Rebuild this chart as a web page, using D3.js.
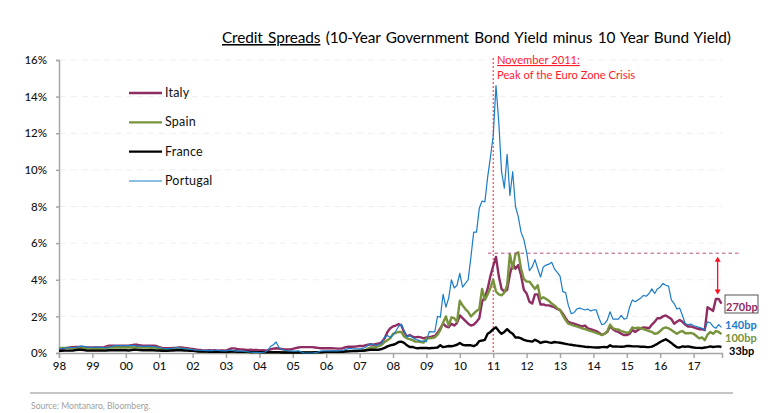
<!DOCTYPE html>
<html><head><meta charset="utf-8">
<script src="https://cdnjs.cloudflare.com/ajax/libs/d3/7.8.5/d3.min.js"></script>
<style>
html,body{margin:0;padding:0;background:#fff;overflow:hidden}
text{font-family:Lato,"Open Sans",sans-serif}
</style></head><body><svg id="c" width="778" height="413"></svg>
<script>
const startYear = 1998;
const yearTicks = d3.range(1998, 2018);
const pctTicks = [0, 2, 4, 6, 8, 10, 12, 14, 16];
const title = "Credit Spreads";
const titleRest = " (10-Year Government Bond Yield minus 10 Year Bund Yield)";
const source = "Source: Montanaro, Bloomberg.";
const peakYear = 2011;
const peakLevel = 5.45;
const gapTop = 5.2, gapBottom = 3.25;

// monthly values, % (Jan 1998 - Nov 2017)
const italy = [
.2,.22,.25,.28,.3,.32,.33,.33,.33,.32,.3,.3,
.3,.3,.3,.3,.3,.36,.4,.4,.4,.4,.4,.4,
.4,.4,.42,.45,.45,.42,.4,.4,.4,.4,.4,.38,
.32,.28,.26,.26,.26,.27,.28,.3,.3,.28,.26,.24,
.22,.2,.17,.16,.14,.14,.16,.14,.15,.13,.14,.14,
.13,.2,.25,.25,.22,.2,.2,.18,.17,.18,.16,.17,
.14,.15,.14,.15,.2,.24,.26,.24,.22,.2,.2,.2,
.22,.27,.3,.32,.32,.32,.32,.32,.3,.28,.26,.26,
.26,.26,.26,.25,.24,.24,.26,.32,.34,.34,.34,.36,
.38,.38,.42,.45,.48,.45,.5,.52,.6,.8,1.15,1.35,
1.45,1.5,1.58,1.5,1.15,.9,.98,.9,.85,.88,.85,.8,
.85,.85,.9,.93,1.1,1.35,1.6,1.45,1.4,1.6,1.5,1.65,
2.05,1.9,1.75,1.6,1.5,1.55,1.7,1.9,2.8,3.05,3.5,4.2,
4.75,5.25,4.2,3.5,3.35,3.45,4.3,4.9,4.6,4.8,4.25,3.45,
3.25,2.8,2.7,3.2,3.2,2.65,2.65,2.6,2.6,2.55,2.5,2.4,
2.35,2.15,1.9,1.7,1.65,1.6,1.55,1.5,1.45,1.5,1.35,1.3,
1.25,1.2,1.1,1,1.05,1.15,1.45,1.3,1.2,1.15,1.05,.98,
.98,1.05,1.25,1.15,1.25,1.35,1.4,1.38,1.35,1.55,1.7,1.9,
1.9,2,2.05,1.95,1.85,1.6,1.7,1.8,1.7,1.55,1.45,1.45,
1.4,1.35,1.3,1.3,1.25,2.5,2.4,2.3,2.95,2.95,2.7];
const spain = [
.25,.28,.28,.28,.26,.26,.25,.25,.25,.25,.24,.24,
.22,.22,.22,.22,.24,.28,.3,.3,.3,.3,.3,.3,
.3,.3,.3,.3,.32,.3,.3,.3,.3,.3,.3,.28,
.26,.22,.2,.2,.2,.22,.24,.25,.24,.22,.2,.18,
.14,.12,.1,.08,.06,.08,.08,.07,.07,.07,.06,.05,
.05,.06,.08,.06,.05,.05,.05,.05,.04,.03,.04,.06,
.04,.04,.03,.04,.05,.05,.05,.05,.04,.03,.03,.03,
.03,.03,.04,.04,.03,.03,.03,.03,.04,.04,.04,.05,
.05,.05,.05,.05,.05,.05,.08,.1,.1,.1,.12,.12,
.12,.13,.15,.25,.3,.3,.33,.38,.45,.6,.7,.8,
1.05,1.1,1.15,1.15,.9,.8,.76,.7,.62,.62,.6,.57,
.8,.8,.82,.85,1,1.25,1.65,2,1.5,1.95,1.9,1.7,
2.85,2.6,2.4,2.25,2,2.15,2.3,2.4,3.5,2.9,3.2,3.55,
4,3.35,3.2,3.15,3.3,3.7,5.4,4.6,5.4,5.5,4.6,4.05,
3.9,3.9,3.7,3.5,3.7,2.95,3.05,2.95,2.85,2.7,2.6,2.45,
2.35,2.05,1.8,1.6,1.55,1.5,1.45,1.4,1.35,1.3,1.25,1.2,
1.15,1.1,1.05,.98,1.05,1.2,1.55,1.35,1.3,1.28,1.2,1.15,
1.1,1.15,1.4,1.35,1.38,1.35,1.3,1.25,1.2,1.15,1.05,1.08,
1.2,1.35,1.4,1.35,1.25,1.15,1.05,1.15,1.2,1.08,1.08,1.1,
1.05,.93,.8,.85,.7,1,1.15,1.05,1.2,1.15,1.03];
const france = [
.12,.12,.13,.13,.13,.14,.16,.18,.18,.16,.14,.13,
.13,.13,.13,.13,.13,.14,.15,.15,.15,.15,.15,.15,
.15,.14,.16,.18,.18,.16,.15,.15,.15,.16,.15,.14,
.14,.12,.12,.12,.14,.14,.15,.15,.15,.14,.13,.12,
.12,.1,.08,.08,.08,.08,.07,.07,.07,.07,.07,.07,
.07,.07,.08,.08,.07,.06,.06,.06,.06,.05,.05,.05,
.05,.04,.04,.04,.04,.04,.04,.04,.03,.03,.03,.03,
.03,.03,.03,.03,.03,.03,.03,.03,.04,.04,.04,.05,
.06,.06,.07,.07,.07,.07,.07,.08,.09,.1,.1,.1,
.12,.12,.14,.16,.18,.18,.18,.18,.22,.28,.36,.42,
.45,.5,.6,.62,.55,.42,.33,.33,.28,.26,.28,.27,
.27,.26,.27,.28,.3,.42,.32,.35,.38,.37,.4,.45,
.55,.45,.42,.42,.42,.38,.45,.65,.68,.72,1.05,1.15,
1.3,1.4,1.2,1.05,1.15,1.3,1.15,1.05,.85,.85,.8,.72,
.67,.65,.62,.72,.65,.55,.6,.62,.58,.55,.6,.58,
.56,.53,.5,.47,.45,.42,.4,.38,.36,.34,.33,.32,
.31,.3,.3,.32,.33,.31,.42,.35,.36,.35,.34,.35,
.38,.38,.36,.36,.36,.34,.35,.33,.32,.35,.42,.5,
.6,.68,.75,.65,.55,.42,.31,.3,.36,.34,.36,.33,
.3,.28,.28,.27,.3,.32,.36,.33,.35,.36,.33];
const portugal = [
.22,.24,.26,.28,.3,.3,.3,.35,.38,.36,.32,.3,
.3,.32,.32,.3,.3,.28,.3,.35,.4,.4,.4,.4,
.4,.4,.42,.4,.38,.38,.36,.36,.38,.36,.35,.33,
.3,.26,.24,.24,.24,.26,.28,.28,.26,.24,.22,.2,
.18,.16,.15,.14,.14,.13,.14,.13,.14,.14,.13,.12,
.12,.14,.16,.12,.1,.1,.1,.08,.06,.04,.03,.03,
.02,.03,.05,.15,.35,.45,.6,.3,.2,.15,.13,.12,
.1,.1,.12,.06,0,0,0,0,.02,.05,.1,.12,
.12,.12,.12,.12,.12,.13,.14,.2,.24,.24,.22,.22,
.22,.25,.3,.42,.5,.45,.42,.45,.55,.88,.95,.85,
.98,1.2,1.45,1.58,1.2,.87,.95,.85,.75,.7,.65,.65,
.62,1.17,1.15,1.15,2,1.95,3.2,2.5,3,4,3.55,3.7,
4.35,3.6,3.8,4,5.25,6.6,6.6,7.9,8.3,8.25,9.6,10.7,
11.85,14.6,12.6,9.9,9,10.85,8.6,9.9,8,7.45,6.6,6.2,
5.5,4.5,4.7,5.1,4.6,4.15,4.7,4.8,4.85,4.95,4.6,4.4,
4.2,3.35,3.3,2.6,2.15,2.2,2.4,2.45,2.4,2.35,2.4,2.3,
2.35,2.35,1.9,1.55,1.6,1.8,2.25,1.85,1.85,1.85,2.05,1.85,
1.9,2.5,2.9,2.8,2.9,3,3.15,3.1,3.25,3.5,3.25,3.5,
3.6,3.8,3.7,3.65,2.9,2.7,2.4,2.45,2.05,1.6,1.55,1.58,
1.5,1.45,1.4,1.35,1.25,1.7,1.65,1.45,1.35,1.55,1.4];

const seriesNames = ["Italy", "Spain", "France", "Portugal"];
const seriesColors = ["#8f2d63", "#77933c", "#000000", "#1b7cc8"];
const seriesWidths = [2.4, 2.4, 2.4, 1.2];
const seriesValues = [italy, spain, france, portugal];
const endLabels = ["270bp", "140bp", "100bp", "33bp"];
const endColors = ["#8f2d63", "#1b7cc8", "#77933c", "#000000"];

const svg = d3.select("#c");
const x = d3.scaleLinear().domain([1998, 2017.85]).range([59, 722]);
const y = d3.scaleLinear().domain([0, 16]).range([353, 60]);

// gridlines
svg.append("g").selectAll("line").data(pctTicks.filter(d => d > 0)).join("line")
  .attr("x1", 60).attr("x2", 722).attr("y1", d => y(d)).attr("y2", d => y(d))
  .attr("stroke", "#efefef").attr("stroke-width", 1).attr("stroke-dasharray", "6 5");

// axes
const yAxis = svg.append("g").attr("transform", "translate(59,0)")
  .call(d3.axisLeft(y).tickValues(pctTicks).tickFormat(d => d + "%").tickSize(3).tickPadding(9));
const xAxis = svg.append("g").attr("transform", "translate(0,353)")
  .call(d3.axisBottom(x).tickValues(yearTicks).tickFormat(d => String(d).slice(2)).tickSize(5).tickPadding(4));
[yAxis, xAxis].forEach(a => {
  a.selectAll(".domain,line").attr("stroke", "#a6a6a6").attr("stroke-width", 1.5);
  a.selectAll("text").attr("fill", "#111").style("font-size", "11.5px").style("font-family", "Lato,sans-serif").style("font-weight", 500);
});

// peak dotted line
svg.append("line").attr("x1", x(peakYear)).attr("x2", x(peakYear)).attr("y1", 58).attr("y2", 353)
  .attr("stroke", "#ff2030").attr("stroke-width", 1).attr("stroke-dasharray", "2 2");

// series
const line = d3.line().x((d, i) => x(startYear + i / 12)).y(d => y(d));
seriesValues.forEach((vals, k) => {
  svg.append("path").datum(vals).attr("d", line).attr("fill", "none")
    .attr("stroke", seriesColors[k]).attr("stroke-width", seriesWidths[k]).attr("stroke-linejoin", "round");
});

// peak level dashed
svg.append("line").attr("x1", 488).attr("x2", 741).attr("y1", y(peakLevel)).attr("y2", y(peakLevel))
  .attr("stroke", "#b5527f").attr("stroke-width", 1).attr("stroke-dasharray", "3.5 3");

// gap arrow
const arrowX = x(2017.72);
svg.append("line").attr("x1", arrowX).attr("x2", arrowX).attr("y1", y(gapTop)).attr("y2", y(gapBottom))
  .attr("stroke", "#ff1020").attr("stroke-width", 1.3);
svg.append("path").attr("fill", "#ff1020")
  .attr("d", `M${arrowX} ${y(gapTop) - 1}l-3 5h6zM${arrowX} ${y(gapBottom) + 1}l-3 -5h6z`);

// title
const t = svg.append("text").attr("x", 222).attr("y", 43).attr("fill", "#000")
  .style("font-size", "15.4px").style("word-spacing", "1.5px").style("letter-spacing", "-.12px");
t.append("tspan").text(title).style("text-decoration", "underline");
t.append("tspan").text(titleRest);

// annotation
svg.append("text").attr("x", 497).attr("y", 64).attr("fill", "#ff1a2e").style("font-size", "11.2px")
  .style("text-decoration", "underline").text("November 2011:");
svg.append("text").attr("x", 497).attr("y", 79).attr("fill", "#ff1a2e").style("font-size", "11.2px")
  .text("Peak of the Euro Zone Crisis");

// legend
const legendY = d3.scalePoint().domain(seriesNames).range([93, 181]);
const lg = svg.append("g").selectAll("g").data(seriesNames).join("g");
lg.append("line").attr("x1", 129).attr("x2", 162).attr("y1", d => legendY(d)).attr("y2", d => legendY(d))
  .attr("stroke", (d, i) => seriesColors[i]).attr("stroke-width", (d, i) => seriesWidths[i]);
lg.append("text").attr("x", 165).attr("y", d => legendY(d) + 4).attr("fill", "#111")
  .style("font-size", "12.5px").style("letter-spacing", ".2px").text(d => d);

// end labels
svg.append("rect").attr("x", 725).attr("y", 295).attr("width", 33).attr("height", 18)
  .attr("fill", "#fff").attr("stroke", "#555").attr("stroke-width", 1);
const endPos = [[726, 311], [725, 329], [725, 342], [729, 355]];
svg.append("g").selectAll("text").data(endLabels).join("text")
  .attr("x", (d, i) => endPos[i][0]).attr("y", (d, i) => endPos[i][1])
  .attr("fill", (d, i) => endColors[i]).style("font-size", "11px").style("font-weight", 700).text(d => d);

// source footer
svg.append("line").attr("x1", 30).attr("x2", 733).attr("y1", 393).attr("y2", 393).attr("stroke", "#8c8c8c").attr("stroke-width", 1.2);
svg.append("text").attr("x", 31).attr("y", 409).attr("fill", "#a0a0a0").style("font-size", "8.6px").text(source);
</script></body></html>
